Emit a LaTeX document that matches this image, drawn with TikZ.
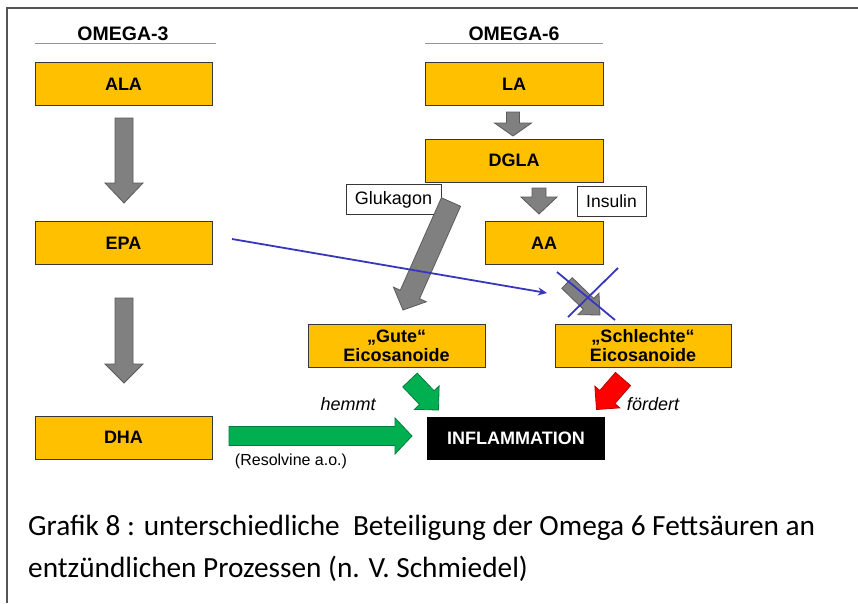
\documentclass[tikz,border=0pt]{standalone}
\usepackage{fontspec}
\usepackage{graphicx}
\usetikzlibrary{calc,arrows.meta}
\newfontfamily\arialf{Liberation Sans}
\newfontfamily\capf{Carlito}
\definecolor{ora}{RGB}{255,192,0}
\definecolor{boxline}{RGB}{55,55,55}
\definecolor{arrgray}{RGB}{128,128,128}
\definecolor{arrgrayd}{RGB}{90,90,90}
\definecolor{agreen}{RGB}{0,176,80}
\definecolor{agreend}{RGB}{0,125,60}
\definecolor{ared}{RGB}{255,0,0}
\definecolor{aredd}{RGB}{190,0,0}
\definecolor{blueline}{RGB}{55,55,190}
\definecolor{framegray}{RGB}{85,85,85}
\definecolor{rulegray}{RGB}{150,150,150}
% #1 style, #2 tail coordinate, #3 tip coordinate, #4 half shaft width, #5 half head width, #6 head length
\newcommand\blockarrow[6]{%
  \coordinate (ba-h) at ($(#3)!#6!(#2)$);
  \path[#1] ($(#2)!#4!90:(#3)$) -- ($(ba-h)!#4!-90:(#2)$) -- ($(ba-h)!#5!-90:(#2)$)
    -- (#3) -- ($(ba-h)!#5!90:(#2)$) -- ($(ba-h)!#4!90:(#2)$) -- ($(#2)!#4!-90:(#3)$) -- cycle;}
\begin{document}
\begin{tikzpicture}[x=1pt,y=-1pt,
  box/.style={draw=boxline, fill=ora, line width=0.8pt, minimum width=177pt, minimum height=43pt,
    inner sep=0pt, align=center, font=\arialf\bfseries\fontsize{18}{19}\selectfont},
  lblbox/.style={draw=boxline, fill=white, line width=0.8pt, minimum height=30pt, inner sep=0pt,
    font=\arialf\fontsize{18}{19}\selectfont},
  hdr/.style={inner sep=0pt, font=\arialf\bfseries\fontsize{19.5}{20}\selectfont},
  rulel/.style={draw=rulegray, line width=1.4pt},
  grayarr/.style={fill=arrgray, draw=arrgrayd, line width=0.8pt},
  greenarr/.style={fill=agreen, draw=agreend, line width=0.8pt},
  redarr/.style={fill=ared, draw=aredd, line width=0.8pt},
  itl/.style={inner sep=0pt, font=\arialf\itshape\fontsize{18}{19}\selectfont},
  note/.style={inner sep=0pt, font=\arialf\fontsize{16}{17}\selectfont},
  capt/.style={inner sep=0pt, anchor=base west, font=\capf\fontsize{29.3}{30}\selectfont},
  blue/.style={draw=blueline, line width=1.8pt}
]
\useasboundingbox (0,0) rectangle (858,603);
\fill[white] (0,0) rectangle (858,603);
% frame
\draw[framegray, line width=2pt] (6.5,603) -- (6.5,7.5) -- (858,7.5);

% headers
\node[hdr, anchor=base] (om3) at (123,40.7) {OMEGA-3};
\node[hdr, anchor=base] (om6) at (514,40.7) {OMEGA-6};
\draw[rulel] (35,43.5) -- (216,43.5);
\draw[rulel] (425,43.5) -- (603,43.5);

% boxes
\node[box] (ala) at (123.5,84) {ALA};
\node[box, minimum width=178pt] (la) at (514,84) {LA};
\node[box, minimum width=178pt] (dgla) at (514,160.5) {DGLA};
\node[box] (epa) at (123.5,243) {EPA};
\node[box, minimum width=118pt] (aa) at (544,243) {AA};
\node[box] (dha) at (123.5,437.5) {DHA};
\node[box] (gute) at (396.5,345.5) {„Gute“\\Eicosanoide};
\node[box, minimum width=176pt] (schl) at (643,345.5) {„Schlechte“\\Eicosanoide};
\node[box, fill=black, draw=black, text=white, minimum height=42pt] (infl) at (516,438) {INFLAMMATION};

\node[lblbox, minimum width=95pt] (gluk) at (393.5,199.5) {Glukagon};
\node[lblbox, minimum width=69pt, font=\arialf\fontsize{17.5}{18}\selectfont] (ins) at (611.5,201) {Insulin};

% block arrow end points
\coordinate (a1s) at (124,118);   \coordinate (a1e) at (124,203);
\coordinate (a2s) at (124,298);   \coordinate (a2e) at (124,383);
\coordinate (a3s) at (513,112);   \coordinate (a3e) at (513,136);
\coordinate (a4s) at (539,188);   \coordinate (a4e) at (539,214);
\coordinate (a5s) at (451,202);   \coordinate (a5e) at (403,310);
\coordinate (a6s) at (567,283);   \coordinate (a6e) at (600,315);
\coordinate (a7s) at (410,380);   \coordinate (a7e) at (438.5,410);
\coordinate (a8s) at (623,379);   \coordinate (a8e) at (596.5,409.5);
\coordinate (a9s) at (229,436);   \coordinate (a9e) at (412,436);

\blockarrow{grayarr}{a1s}{a1e}{9pt}{19pt}{20pt}
\blockarrow{grayarr}{a2s}{a2e}{9pt}{19pt}{19pt}
\blockarrow{grayarr}{a3s}{a3e}{6.5pt}{18.5pt}{13pt}
\blockarrow{grayarr}{a4s}{a4e}{7pt}{18pt}{17pt}
\blockarrow{grayarr}{a5s}{a5e}{10.5pt}{18pt}{17pt}
\blockarrow{grayarr}{a6s}{a6e}{7.5pt}{15pt}{16pt}
\blockarrow{greenarr}{a7s}{a7e}{10pt}{17pt}{17pt}
\blockarrow{redarr}{a8s}{a8e}{10pt}{16.5pt}{16.5pt}
\blockarrow{greenarr}{a9s}{a9e}{9.5pt}{18pt}{17pt}

% blue inhibition line and cross
\coordinate (bls) at (232,239);
\coordinate (ble) at (547,293);
\draw[blue, -{Stealth[length=9pt,width=8pt]}] (bls) -- (ble);
\coordinate (x1a) at (557,272); \coordinate (x1b) at (615,320);
\coordinate (x2a) at (618,268); \coordinate (x2b) at (568,317);
\draw[blue] (x1a) -- (x1b);
\draw[blue] (x2a) -- (x2b);

% labels
\node[itl, anchor=base] (hemmt) at (348,410) {hemmt};
\node[itl, anchor=base] (foerd) at (653,410) {fördert};
\node[note, anchor=base] (resol) at (291,465) {(Resolvine a.o.)};

% caption
\node[capt] (cap1) at (28,535) {Grafik 8 : unterschiedliche\ \ Beteiligung der Omega 6 Fettsäuren an};
\node[capt] (cap2) at (28,577) {entzündlichen Prozessen (n. V. Schmiedel)};
\end{tikzpicture}
\end{document}
